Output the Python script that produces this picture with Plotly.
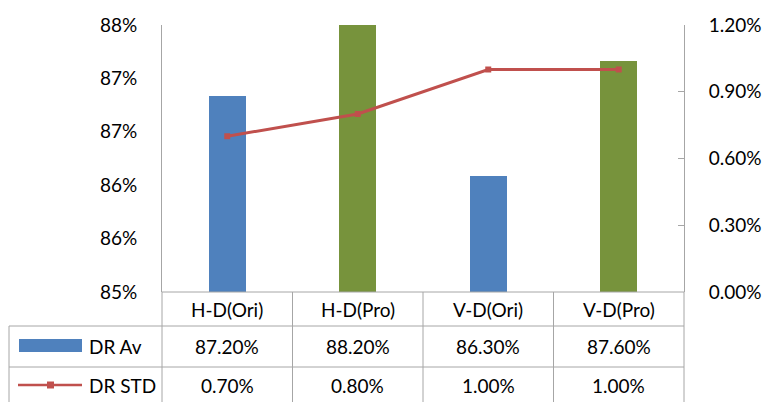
import plotly.graph_objects as go

categories = ["H-D(Ori)", "H-D(Pro)", "V-D(Ori)", "V-D(Pro)"]
dr_av = [87.2, 88.2, 86.3, 87.6]          # percent
dr_std = [0.7, 0.8, 1.0, 1.0]             # percent
left_tickvals = [85, 85.6, 86.2, 86.8, 87.4, 88]
left_ticktext = ["85%", "86%", "86%", "87%", "87%", "88%"]
right_tickvals = [0, 0.3, 0.6, 0.9, 1.2]
right_ticktext = ["0.00%", "0.30%", "0.60%", "0.90%", "1.20%"]
series_names = ["DR Av", "DR STD"]

W, H = 768, 402
BLUE = "#4F81BD"
GREEN = "#77933C"
RED = "#C0504D"
GRID = "#A6A6A6"
FONT = "Lato, Carlito, Calibri, sans-serif"

x0, x1 = 162, 684          # plot area px
ytop, ybot = 25, 292
row1, row2 = 326, 367       # table row lines
tab_left = 9

def px(x):
    return x / W

def py(y):
    return 1 - y / H

bar_colors = [BLUE, GREEN, BLUE, GREEN]

fig = go.Figure()
fig.add_trace(go.Bar(
    x=categories, y=dr_av, name=series_names[0],
    marker=dict(color=bar_colors, line=dict(width=0)),
    width=0.28, yaxis="y", showlegend=False,
))
fig.add_trace(go.Scatter(
    x=categories, y=dr_std, name=series_names[1], mode="lines+markers",
    line=dict(color=RED, width=3),
    marker=dict(symbol="square", size=6, color=RED),
    yaxis="y2", showlegend=False,
))

shapes = []
def line(xa, ya, xb, yb):
    shapes.append(dict(type="line", xref="paper", yref="paper",
                       x0=px(xa), y0=py(ya), x1=px(xb), y1=py(yb),
                       line=dict(color=GRID, width=1)))

# table grid
line(x0, ybot, x1, ybot)
line(tab_left, row1, x1, row1)
line(tab_left, row2, x1, row2)
line(tab_left, row1, tab_left, H + 5)
for i in range(len(categories) + 1):
    xx = x0 + (x1 - x0) * i / len(categories)
    line(xx, ybot, xx, H + 5)

# legend keys in table
shapes.append(dict(type="rect", xref="paper", yref="paper",
                   x0=px(19), x1=px(82), y0=py(352), y1=py(339),
                   fillcolor=BLUE, line=dict(width=0)))
shapes.append(dict(type="line", xref="paper", yref="paper",
                   x0=px(18), x1=px(82), y0=py(385), y1=py(385),
                   line=dict(color=RED, width=2.5)))
shapes.append(dict(type="rect", xref="paper", yref="paper",
                   x0=px(47), x1=px(54), y0=py(388.5), y1=py(381.5),
                   fillcolor=RED, line=dict(width=0)))

annotations = []
fs = 19
tf = dict(size=fs, color="#000", family=FONT)
common = dict(showarrow=False, font=tf, yanchor="middle", yref="paper")
for i, c in enumerate(categories):
    annotations.append(dict(x=c, y=py((ybot + row1) / 2), xref="x", xanchor="center",
                            text=c, **common))
    annotations.append(dict(x=c, y=py((row1 + row2) / 2), xref="x", xanchor="center",
                            text=f"{dr_av[i]:.2f}%", **common))
    annotations.append(dict(x=c, y=py(385), xref="x", xanchor="center",
                            text=f"{dr_std[i]:.2f}%", **common))
annotations.append(dict(x=px(87), y=py(346), xref="paper", xanchor="left",
                        text=series_names[0], **common))
annotations.append(dict(x=px(87), y=py(385), xref="paper", xanchor="left",
                        text=series_names[1], **common))

fig.update_layout(
    width=W, height=H,
    margin=dict(l=0, r=0, t=0, b=0, autoexpand=False),
    paper_bgcolor="white", plot_bgcolor="white",
    font=dict(family=FONT, size=fs, color="#000"),
    xaxis=dict(domain=[px(x0), px(x1)], range=[-0.5, 3.5], showticklabels=False,
               showline=False, showgrid=False, zeroline=False, ticks="", automargin=False),
    yaxis=dict(domain=[py(ybot), py(ytop)], range=[85, 88],
               tickvals=left_tickvals, ticktext=left_ticktext, automargin=False,
               showgrid=False, zeroline=False, showline=True, linecolor=GRID, linewidth=1,
               ticks="", ticklabelstandoff=20, tickfont=tf),
    yaxis2=dict(domain=[py(ybot), py(ytop)], range=[0, 1.2], overlaying="y", side="right",
                anchor="x", tickvals=right_tickvals, ticktext=right_ticktext, automargin=False,
                showgrid=False, zeroline=False, showline=True, linecolor=GRID, linewidth=1,
                ticks="inside", ticklen=6, tickcolor=GRID, ticklabelstandoff=20,
                tickfont=tf),
    shapes=shapes, annotations=annotations,
    bargap=0,
)

fig.write_html("out.html", config={"displayModeBar": False},
               post_script="document.body.style.margin='0';document.body.style.overflow='hidden';")
